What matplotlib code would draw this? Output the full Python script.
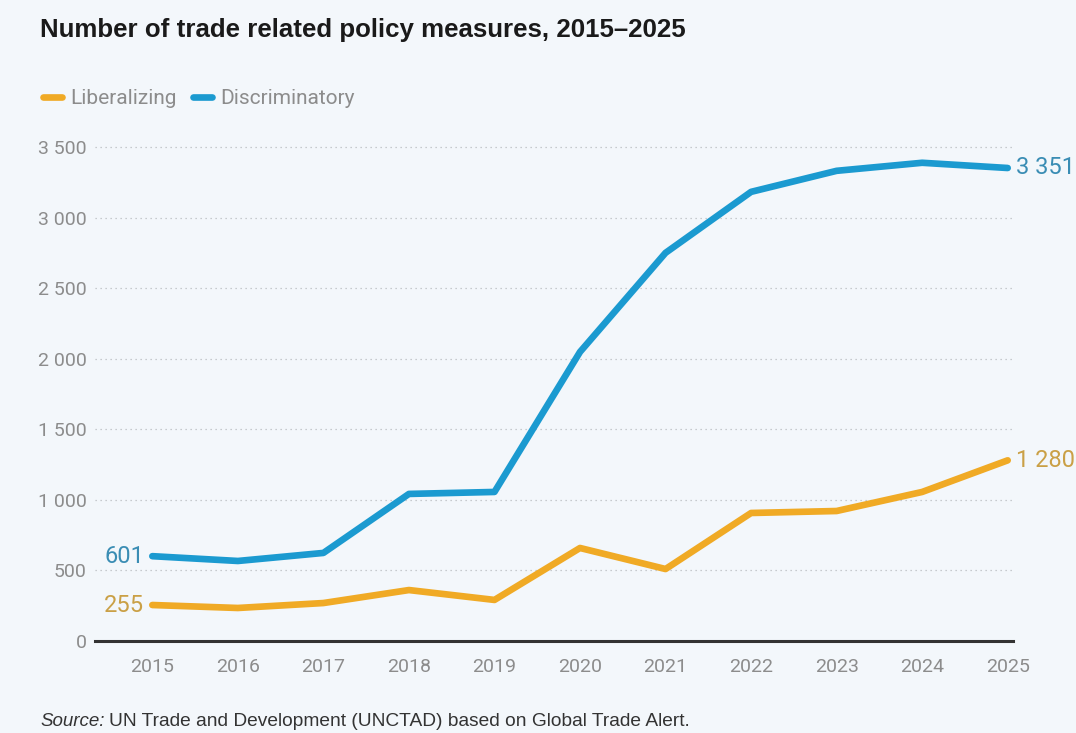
import matplotlib
matplotlib.use("Agg")
import matplotlib.pyplot as plt
from matplotlib import font_manager as fm
from matplotlib.lines import Line2D

years = [2015, 2016, 2017, 2018, 2019, 2020, 2021, 2022, 2023, 2024, 2025]
liberalizing = [255, 234, 269, 361, 291, 659, 510, 907, 921, 1056, 1280]
discriminatory = [601, 567, 624, 1042, 1056, 2048, 2750, 3182, 3331, 3388, 3351]
yticks = [0, 500, 1000, 1500, 2000, 2500, 3000, 3500]
ytick_labels = ["0", "500", "1 000", "1 500", "2 000", "2 500", "3 000", "3 500"]

names = {f.name for f in fm.fontManager.ttflist}
narrow = "Liberation Sans Narrow" if "Liberation Sans Narrow" in names else "Roboto"
regular = "Liberation Sans"

BG = "#f3f7fb"
ORANGE = "#f0aa25"
BLUE = "#1b9ad0"
ORANGE_TXT = "#caa046"
BLUE_TXT = "#3a8db4"
GREY = "#8c8c8c"

fig = plt.figure(figsize=(10.76, 7.33), dpi=100, facecolor=BG)
ax = fig.add_axes([0.0883, 0.1255, 0.853, 0.674])
ax.set_facecolor(BG)

ax.plot(years, discriminatory, color=BLUE, lw=4.8, solid_capstyle="round", solid_joinstyle="round", zorder=3)
ax.plot(years, liberalizing, color=ORANGE, lw=4.8, solid_capstyle="round", solid_joinstyle="round", zorder=3)

ax.set_xlim(2014.33, 2025.06)
ax.set_ylim(0, 3500)
for t in yticks[1:]:
    ax.axhline(t, color="#b8bcc0", lw=0.9, ls=(0, (1, 3)), zorder=1, clip_on=False)
ax.axhline(0, color="#333333", lw=2.2, zorder=2, clip_on=False)

for s in ax.spines.values():
    s.set_visible(False)
ax.set_yticks(yticks)
ax.set_yticklabels(ytick_labels, fontfamily=narrow, fontsize=14, color=GREY)
ax.set_xticks(years)
ax.set_xticklabels([str(y) for y in years], fontfamily=narrow, fontsize=14, color=GREY)
ax.tick_params(length=0)
ax.tick_params(axis="y", pad=6)
ax.tick_params(axis="x", pad=12)

lab_kw = dict(fontfamily=narrow, fontsize=17, va="center")
ax.annotate("601", (years[0], discriminatory[0]), xytext=(-6, 0), textcoords="offset points",
            ha="right", color=BLUE_TXT, **lab_kw)
ax.annotate("255", (years[0], liberalizing[0]), xytext=(-6, 0), textcoords="offset points",
            ha="right", color=ORANGE_TXT, **lab_kw)
ax.annotate("3 351", (years[-1], discriminatory[-1]), xytext=(6, 0), textcoords="offset points",
            ha="left", color=BLUE_TXT, annotation_clip=False, **lab_kw)
ax.annotate("1 280", (years[-1], liberalizing[-1]), xytext=(6, 0), textcoords="offset points",
            ha="left", color=ORANGE_TXT, annotation_clip=False, **lab_kw)

fig.text(40/1076, 1 - 30/733, "Number of trade related policy measures, 2015\u20132025",
         fontfamily=regular, fontweight="bold", fontsize=18.6, color="#1a1a1a", va="center", ha="left")

for x0, col, txt in [(40, ORANGE, "Liberalizing"), (190, BLUE, "Discriminatory")]:
    fig.add_artist(Line2D([(x0 + 3)/1076, (x0 + 22)/1076], [1 - 97/733]*2, color=col, lw=4.8,
                          solid_capstyle="round"))
    fig.text((x0 + 30)/1076, 1 - 99/733, txt, fontfamily=narrow, fontsize=15, color=GREY,
             va="center", ha="left")

fig.text(40/1076, 1 - 722/733, "Source:", fontfamily=regular, fontstyle="italic", fontsize=13.5,
         color="#333333", va="center", ha="left")
fig.text(109/1076, 1 - 722/733, "UN Trade and Development (UNCTAD) based on Global Trade Alert.",
         fontfamily=regular, fontsize=13.8, color="#333333", va="center", ha="left")

fig.savefig("out.png", dpi=100, facecolor=BG)
